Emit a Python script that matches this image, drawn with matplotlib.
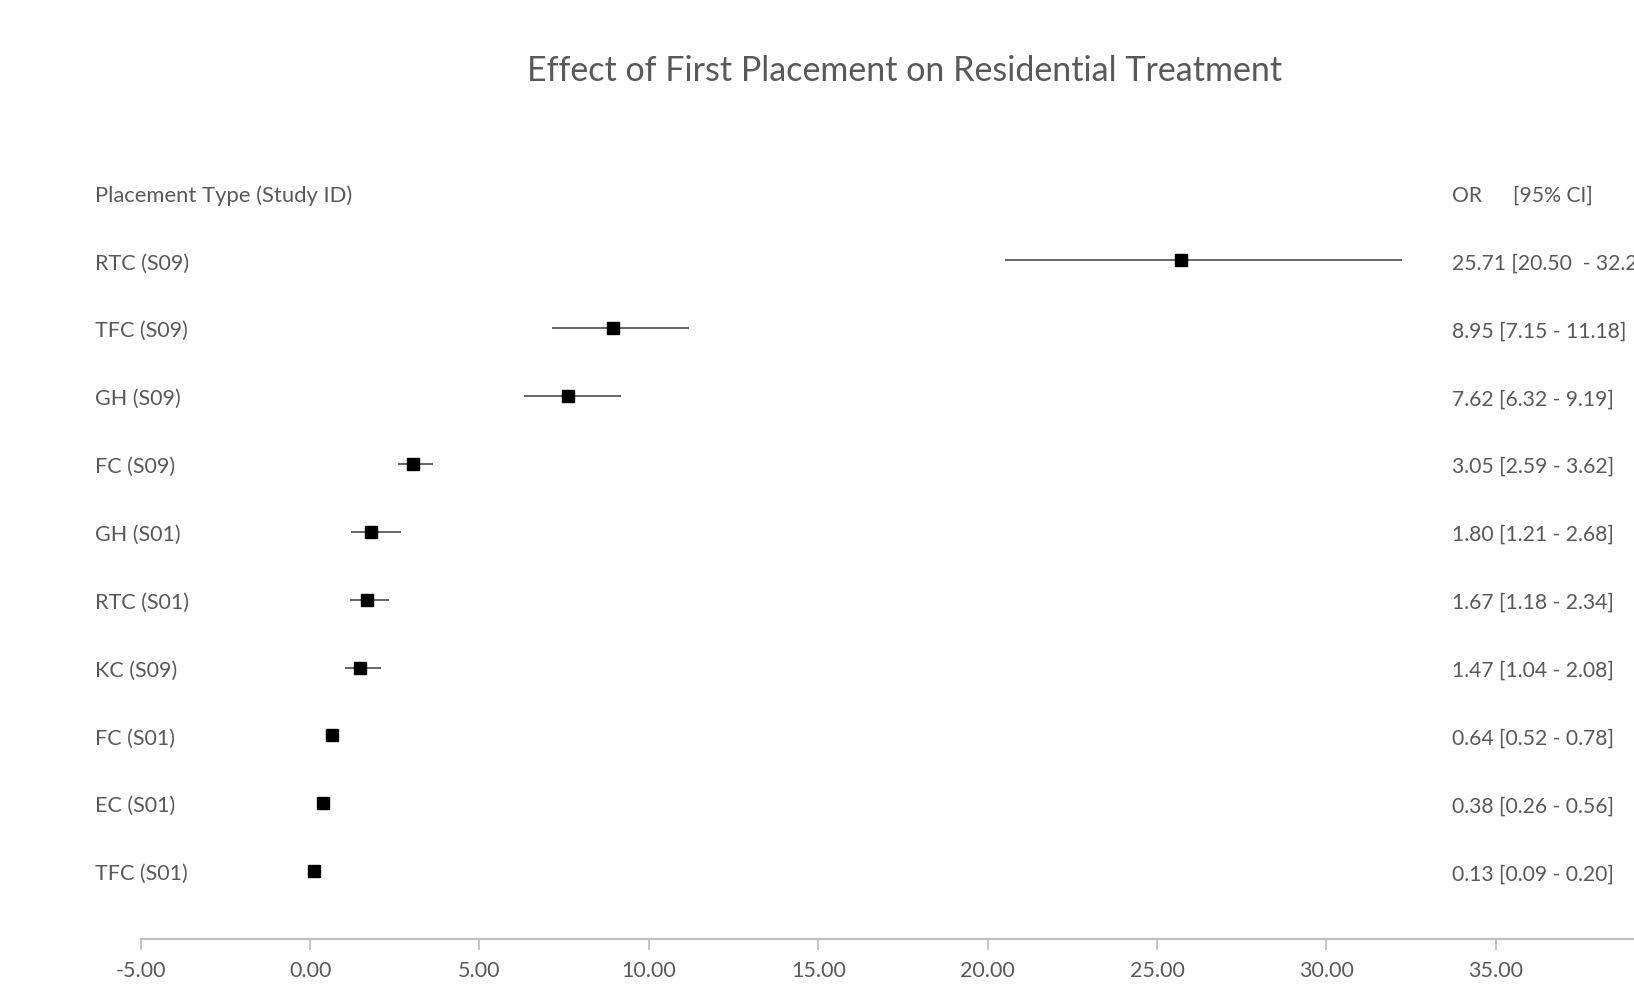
# -*- coding: utf-8 -*-
"""
Forest plot: odds ratios of first placement type on residential treatment
"""

import matplotlib
matplotlib.use("Agg")
import matplotlib.pyplot as plt
from matplotlib.transforms import blended_transform_factory

# data, top row first
study_labels = ["RTC (S09)", "TFC (S09)", "GH (S09)", "FC (S09)", "GH (S01)",
                "RTC (S01)", "KC (S09)", "FC (S01)", "EC (S01)", "TFC (S01)"]
odds_ratio = [25.71, 8.95, 7.62, 3.05, 1.80, 1.67, 1.47, 0.64, 0.38, 0.13]
ci_lower = [20.50, 7.15, 6.32, 2.59, 1.21, 1.18, 1.04, 0.52, 0.26, 0.09]
ci_upper = [32.24, 11.18, 9.19, 3.62, 2.68, 2.34, 2.08, 0.78, 0.56, 0.20]
x_ticks = [-5, 0, 5, 10, 15, 20, 25, 30, 35]

text_grey = "#595959"
plt.rcParams["font.family"] = ["Lato", "DejaVu Sans"]


def main():
    fig = plt.figure(figsize=(16.34, 9.92), dpi=100)
    # axis runs off the right edge, the chart is cropped there
    ax = fig.add_axes([0.0861, 0.0534, 0.933, 0.7867])

    rows = list(range(len(study_labels)))
    for i in rows:
        ax.plot([ci_lower[i], ci_upper[i]], [i, i], color=text_grey, lw=1.3,
                solid_capstyle="butt", zorder=2)
    ax.plot(odds_ratio, rows, "s", color="black", markersize=8.5, zorder=3)

    ax.set_xlim(-5, 40)
    ax.set_ylim(10, -1.5)
    ax.set_xticks(x_ticks)
    ax.set_xticklabels(["%.2f" % t for t in x_ticks])
    ax.set_yticks([])
    for side in ["left", "right", "top"]:
        ax.spines[side].set_visible(False)
    ax.spines["bottom"].set_color("#bfbfbf")
    ax.spines["bottom"].set_linewidth(1.6)
    ax.tick_params(axis="x", colors="#bfbfbf", labelcolor=text_grey,
                   length=8, width=1.3, labelsize=15.5, pad=8)

    # text rows sit a touch below the marker centres
    dy = 0.045
    fs_left = 15.5
    fs_right = 15.2
    trans = blended_transform_factory(fig.transFigure, ax.transData)
    ax.text(0.058, -1 + dy, "Placement Type (Study ID)", transform=trans,
            va="center", ha="left", fontsize=15.8, color=text_grey)
    ax.text(0.8884, -1 + dy, "OR", transform=trans, va="center", ha="left",
            fontsize=fs_right, color=text_grey)
    ax.text(0.926, -1 + dy, "[95% CI]", transform=trans, va="center", ha="left",
            fontsize=fs_right, color=text_grey)
    for i in rows:
        ax.text(0.058, i + dy, study_labels[i], transform=trans, va="center",
                ha="left", fontsize=fs_left, color=text_grey)
        if i == 0:
            ci_text = "%.2f [%.2f  - %.2f]" % (odds_ratio[i], ci_lower[i], ci_upper[i])
        else:
            ci_text = "%.2f [%.2f - %.2f]" % (odds_ratio[i], ci_lower[i], ci_upper[i])
        ax.text(0.8884, i + dy, ci_text, transform=trans, va="center", ha="left",
                fontsize=fs_right, color=text_grey)

    fig.text(0.5535, 0.928, "Effect of First Placement on Residential Treatment",
             ha="center", va="center", fontsize=24.5, color=text_grey)

    plt.savefig("out.png", dpi=100)


if __name__ == "__main__":
    main()
